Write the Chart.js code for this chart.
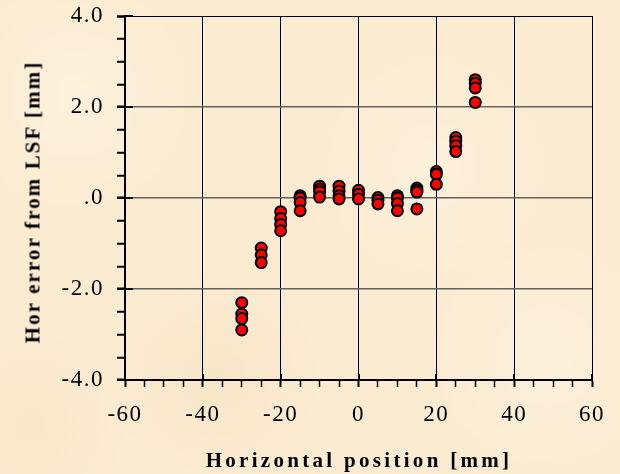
<!DOCTYPE html>
<html>
<head>
<meta charset="utf-8">
<script src="https://cdn.jsdelivr.net/npm/chart.js@4/dist/chart.umd.min.js"></script>
<style>
  html, body { margin: 0; padding: 0; }
  body {
    width: 620px; height: 474px; overflow: hidden; position: relative;
    background-color: #fbebd1;
    background-image:
      radial-gradient(circle at 12% 20%, rgba(255,246,228,0.6), transparent 18%),
      radial-gradient(circle at 70% 35%, rgba(255,245,226,0.5), transparent 22%),
      radial-gradient(circle at 35% 80%, rgba(244,224,190,0.45), transparent 20%),
      radial-gradient(circle at 88% 75%, rgba(255,246,228,0.5), transparent 18%),
      radial-gradient(circle at 5% 90%, rgba(245,226,194,0.45), transparent 15%);
  }
  #wrap { position: absolute; left: 0; top: 0; width: 620px; height: 474px; }
  .axis-title {
    position: absolute; font-family: "Liberation Serif", "Times New Roman", serif;
    font-weight: bold; font-size: 21px; color: #000; white-space: nowrap;
  }
  #xTitle { left: 359px; top: 460px; transform: translate(-50%, -50%); letter-spacing: 3.3px; }
  #yTitle { left: 33px; top: 202px; transform: translate(-50%, -50%) rotate(-90deg); letter-spacing: 2.1px; }
</style>
</head>
<body>
<div id="wrap"><canvas id="chart" width="620" height="474"></canvas></div>
<div class="axis-title" id="xTitle">Horizontal position [mm]</div>
<div class="axis-title" id="yTitle">Hor error from LSF [mm]</div>
<script>
// measurement positions [mm] and the residuals at each
const positions = [-30, -25, -20, -15, -10, -5, 0, 5, 10, 15, 20, 25, 30]
const residuals = [
  [-2.3, -2.55, -2.65, -2.9],
  [-1.1, -1.25, -1.42],
  [-0.3, -0.45, -0.58, -0.72],
  [0.05, 0.0, -0.1, -0.28],
  [0.26, 0.2, 0.14, 0.02],
  [0.26, 0.15, 0.05, -0.02],
  [0.17, 0.08, -0.02],
  [0.01, -0.05, -0.13],
  [0.05, 0.0, -0.12, -0.28],
  [0.22, 0.17, 0.13, -0.24],
  [0.58, 0.52, 0.3],
  [1.33, 1.25, 1.15, 1.02],
  [2.6, 2.52, 2.42, 2.1]
]

const xMajor = [-60, -40, -20, 0, 20, 40, 60]
const yMajor = [-4, -2, 0, 2, 4]
const yTickText = { '4': '4.0', '2': '2.0', '0': '.0', '-2': '-2.0', '-4': '-4.0' }

const points = []
positions.forEach((x, i) => {
  residuals[i].forEach(y => points.push({ x, y }))
})

const isMajor = (list, v) => list.some(m => Math.abs(m - v) < 1e-6)

// slightly open tick numerals
const spacedText = {
  id: 'spacedText',
  beforeDraw(chart) {
    chart.ctx.letterSpacing = '1.5px'
  }
}

// short tick stubs on the inner side of the axes at major values
const innerTicks = {
  id: 'innerTicks',
  afterDraw(chart) {
    const { ctx, scales: { x, y }, chartArea } = chart
    ctx.save()
    ctx.strokeStyle = '#000'
    ctx.lineWidth = 2
    ctx.beginPath()
    yMajor.forEach(v => {
      const py = Math.round(y.getPixelForValue(v))
      ctx.moveTo(chartArea.left, py)
      ctx.lineTo(chartArea.left + 8, py)
    })
    xMajor.forEach(v => {
      const px = Math.round(x.getPixelForValue(v))
      ctx.moveTo(px, chartArea.bottom)
      ctx.lineTo(px, chartArea.bottom - 6)
    })
    ctx.stroke()
    ctx.restore()
  }
}

const tickFont = { family: '"Liberation Serif", "Times New Roman", serif', size: 23 }

new Chart(document.getElementById('chart'), {
  type: 'scatter',
  data: {
    datasets: [{
      data: points,
      backgroundColor: '#ff0000',
      borderColor: '#000',
      borderWidth: 2,
      pointRadius: 5.5,
      pointHoverRadius: 5.5
    }]
  },
  options: {
    responsive: false,
    animation: false,
    layout: { padding: { top: 16, right: 28, left: 0, bottom: 0 } },
    plugins: { legend: { display: false }, tooltip: { enabled: false } },
    scales: {
      x: {
        type: 'linear',
        min: -60,
        max: 60,
        afterFit: scale => {
          scale.height = 94
          scale.paddingLeft = 0
          scale.paddingRight = 0
        },
        ticks: {
          stepSize: 5,
          autoSkip: false,
          maxRotation: 0,
          color: '#000',
          font: tickFont,
          padding: 14,
          callback: v => isMajor(xMajor, v) ? String(v) : ''
        },
        border: { color: '#000', width: 2 },
        grid: {
          color: ctx => isMajor(xMajor, ctx.tick.value) && ctx.tick.value !== -60 ? '#000' : 'rgba(0,0,0,0)',
          lineWidth: 1,
          tickColor: '#000',
          tickWidth: ctx => isMajor(xMajor, ctx.tick.value) ? 2 : 1.5,
          tickLength: 7,
          drawTicks: true
        }
      },
      y: {
        type: 'linear',
        min: -4,
        max: 4,
        afterFit: scale => {
          scale.width = 125
          scale.paddingTop = 0
          scale.paddingBottom = 0
        },
        ticks: {
          stepSize: 0.5,
          autoSkip: false,
          color: '#000',
          font: tickFont,
          padding: 13,
          callback: v => isMajor(yMajor, v) ? yTickText[String(v)] : ''
        },
        border: { color: '#000', width: 2 },
        grid: {
          color: ctx => {
            const v = ctx.tick.value
            if (!isMajor(yMajor, v) || v === -4) return 'rgba(0,0,0,0)'
            return v === 4 ? '#000' : '#66625c'
          },
          lineWidth: ctx => ctx.tick.value === 4 ? 1 : 1.5,
          tickColor: '#000',
          tickWidth: ctx => isMajor(yMajor, ctx.tick.value) ? 2.5 : 2,
          tickLength: 8
        }
      }
    }
  },
  plugins: [spacedText, innerTicks]
})
</script>
</body>
</html>
